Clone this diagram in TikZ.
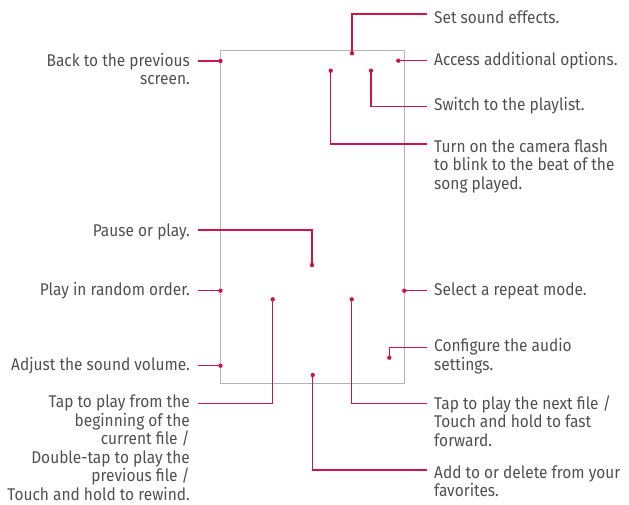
\documentclass[tikz,border=0pt]{standalone}
\usepackage{fontspec}
\setmainfont{Fira Sans}[FakeStretch=0.91]
\usetikzlibrary{positioning}
\definecolor{callout}{HTML}{C8174B}
\definecolor{frame}{HTML}{B3B3B3}
\definecolor{ink}{HTML}{505050}

\begin{document}
\begin{tikzpicture}[x=1pt,y=-1pt,
    lbl/.style={inner sep=0pt,text=ink,font=\fontsize{17}{18.5}\selectfont},
    lblL/.style={lbl,anchor=base east,align=right},
    lblR/.style={lbl,anchor=base west,align=left},
    lead/.style={callout,line width=1.2pt},
    spot/.style={circle,fill=callout,inner sep=0pt,minimum size=4.4pt}]
  \useasboundingbox (0,0) rectangle (629,504);
  % screen outline
  \draw[frame,line width=0.9pt] (220.5,50.5) rectangle (404,383);

  % hot spots on the screen
  \coordinate (back) at (220.5,61);
  \coordinate (pause) at (312,265);
  \coordinate (shuffle) at (220.5,290.7);
  \coordinate (volume) at (220.5,365.7);
  \coordinate (prev) at (272.7,299.3);
  \coordinate (effects) at (352,53.3);
  \coordinate (options) at (398.3,60.7);
  \coordinate (playlist) at (371,70.7);
  \coordinate (flash) at (330.7,70.7);
  \coordinate (repeat) at (404.3,290.7);
  \coordinate (audio) at (389.3,357.7);
  \coordinate (next) at (351.7,299.3);
  \coordinate (favorite) at (312.7,375);

  % free ends of the leaders
  \coordinate (eBack) at (198,61);
  \coordinate (ePause) at (198,230);
  \coordinate (eShuffle) at (198,290.7);
  \coordinate (eVolume) at (198,365.7);
  \coordinate (ePrev) at (198,403.3);
  \coordinate (eEffects) at (427,14);
  \coordinate (eOptions) at (427,60.7);
  \coordinate (ePlaylist) at (427,106.7);
  \coordinate (eFlash) at (427,144);
  \coordinate (eRepeat) at (427,290.7);
  \coordinate (eAudio) at (427,347.3);
  \coordinate (eNext) at (427,403.3);
  \coordinate (eFavorite) at (427,470);

  % left labels (base = last line)
  \node[lblL] (tBack) at ([xshift=-8pt,yshift=-23.8pt]eBack) {Back to the previous\\screen.};
  \node[lblL] (tPause) at ([xshift=-8pt,yshift=-6pt]ePause) {Pause or play.};
  \node[lblL] (tShuffle) at ([xshift=-8pt,yshift=-5pt]eShuffle) {Play in random order.};
  \node[lblL] (tVolume) at ([xshift=-8pt,yshift=-5pt]eVolume) {Adjust the sound volume.};
  \node[lblL] (tPrev) at ([xshift=-8pt,yshift=-97pt]ePrev) {Tap to play from the\\beginning of the\\current file /\\Double-tap to play the\\previous file /\\Touch and hold to rewind.};

  % right labels
  \node[lblR] (tEffects) at ([xshift=7pt,yshift=-9pt]eEffects) {Set sound effects.};
  \node[lblR] (tOptions) at ([xshift=7pt,yshift=-5pt]eOptions) {Access additional options.};
  \node[lblR] (tPlaylist) at ([xshift=7pt,yshift=-4pt]ePlaylist) {Switch to the playlist.};
  \node[lblR] (tFlash) at ([xshift=7pt,yshift=-45pt]eFlash) {Turn on the camera flash\\to blink to the beat of the\\song played.};
  \node[lblR] (tRepeat) at ([xshift=7pt,yshift=-5pt]eRepeat) {Select a repeat mode.};
  \node[lblR] (tAudio) at ([xshift=7pt,yshift=-22.9pt]eAudio) {Configure the audio\\settings.};
  \node[lblR] (tNext) at ([xshift=7pt,yshift=-43pt]eNext) {Tap to play the next file /\\Touch and hold to fast\\forward.};
  \node[lblR] (tFavorite) at ([xshift=7pt,yshift=-26.8pt]eFavorite) {Add to or delete from your\\favorites.};

  % leaders
  \draw[lead] (eBack) -- (back);
  \draw[lead] (ePause) -| (pause);
  \draw[lead] (eShuffle) -- (shuffle);
  \draw[lead] (eVolume) -- (volume);
  \draw[lead] (ePrev) -| (prev);
  \draw[lead] (eEffects) -| (effects);
  \draw[lead] (eOptions) -- (options);
  \draw[lead] (ePlaylist) -| (playlist);
  \draw[lead] (eFlash) -| (flash);
  \draw[lead] (eRepeat) -- (repeat);
  \draw[lead] (eAudio) -| (audio);
  \draw[lead] (eNext) -| (next);
  \draw[lead] (eFavorite) -| (favorite);

  \foreach \p in {back,pause,shuffle,volume,prev,effects,options,playlist,flash,repeat,audio,next,favorite}
    \node[spot] at (\p) {};
\end{tikzpicture}
\end{document}
